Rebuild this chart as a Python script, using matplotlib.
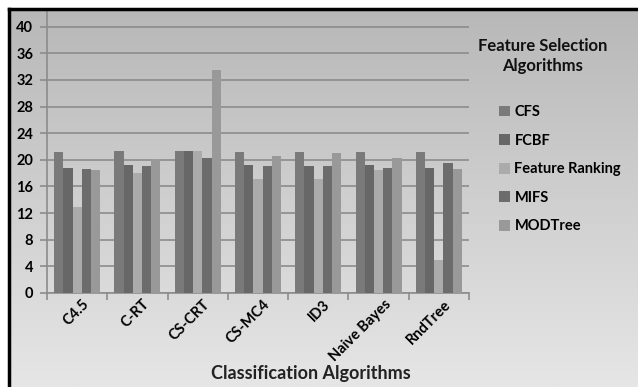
import numpy as np
import matplotlib
matplotlib.use("Agg")
import matplotlib.pyplot as plt
from matplotlib.lines import Line2D
from matplotlib.transforms import ScaledTranslation

plt.rcParams['font.family'] = ['Lato', 'DejaVu Sans']

# data
classifiers = ["C4.5", "C-RT", "CS-CRT", "CS-MC4", "ID3", "Naive Bayes", "RndTree"]
cfs = [21.2, 21.4, 21.4, 21.2, 21.2, 21.2, 21.2]
fcbf = [18.8, 19.2, 21.4, 19.2, 19.0, 19.2, 18.8]
feature_ranking = [12.85, 17.95, 21.4, 17.1, 17.1, 18.4, 5.0]
mifs = [18.65, 19.0, 20.3, 19.0, 19.0, 18.8, 19.5]
modtree = [18.4, 20.15, 33.5, 20.5, 21.05, 20.3, 18.6]

series = [("CFS", cfs, "#7a7a7a"),
          ("FCBF", fcbf, "#676767"),
          ("Feature Ranking", feature_ranking, "#ababab"),
          ("MIFS", mifs, "#6c6c6c"),
          ("MODTree", modtree, "#999999")]

W, H = 638, 387
fig = plt.figure(figsize=(W / 100, H / 100), dpi=100)
fig.patch.set_facecolor("white")

# gradient background
bg = fig.add_axes([10 / W, 0, (W - 10) / W, (H - 10) / H])
grad = np.linspace(0, 1, 256).reshape(-1, 1)
bg.imshow(grad, aspect="auto", cmap=matplotlib.colors.LinearSegmentedColormap.from_list(
    "g", ["#b8b8b8", "#e6e6e6"]), extent=[0, 1, 0, 1], origin="upper")
bg.axis("off")

# black frame (left and top)
fig.add_artist(Line2D([8.5 / W, 8.5 / W], [0, (H - 8.5) / H], color="black", lw=2.5))
fig.add_artist(Line2D([8.5 / W, 1], [(H - 8.5) / H, (H - 8.5) / H], color="black", lw=2.5))

ax = fig.add_axes([47 / W, 94 / H, 422 / W, 283 / H])
ax.set_facecolor("none")

x = np.arange(len(classifiers))
bw = 0.153
for i, (name, vals, col) in enumerate(series):
    ax.bar(x + (i - 2) * bw, vals, bw, color=col, label=name, zorder=3)

ax.set_xlim(-0.5, len(classifiers) - 0.5)
ax.set_ylim(0, 42.5)
ax.set_yticks(np.arange(0, 41, 4))
ax.yaxis.grid(True, color="#8c8c8c", lw=1.2, zorder=0)
ax.set_axisbelow(True)

ax.set_xticks(x)
ax.set_xticklabels(classifiers, rotation=45, ha="right", rotation_mode="anchor",
                   fontweight="bold", fontsize=10.5)
ax.set_xticks(np.arange(-0.5, len(classifiers)), minor=True)
ax.tick_params(axis="x", which="major", length=0, pad=3)
ax.tick_params(axis="x", which="minor", length=5, color="#8c8c8c", width=1.2)
for lbl in ax.get_xticklabels():
    lbl.set_transform(lbl.get_transform() + ScaledTranslation(0.05, 0, fig.dpi_scale_trans))
ax.tick_params(axis="y", length=5, color="#8c8c8c", width=1.2, labelsize=10.5, pad=5)
for lbl in ax.get_yticklabels():
    lbl.set_fontweight("bold")

for s in ["top", "right"]:
    ax.spines[s].set_visible(False)
for s in ["left", "bottom"]:
    ax.spines[s].set_color("#8c8c8c")
    ax.spines[s].set_linewidth(1.2)

fig.text(311 / W, 1 - 373 / H, "Classification Algorithms", ha="center", va="center",
         fontsize=13, fontweight="bold", color="#222222")

fig.text(543 / W, 1 - 56 / H, "Feature Selection\nAlgorithms", ha="center", va="center",
         multialignment="center", fontsize=12, fontweight="bold", color="#111111",
         linespacing=1.3)

leg = fig.legend(loc="upper left", bbox_to_anchor=(486 / W, 1 - 92 / H), frameon=False,
                 handlelength=0.75, handleheight=0.75, handletextpad=0.3,
                 labelspacing=1.0, prop={"weight": "bold", "size": 10.5})

fig.savefig("out.png", dpi=100)
